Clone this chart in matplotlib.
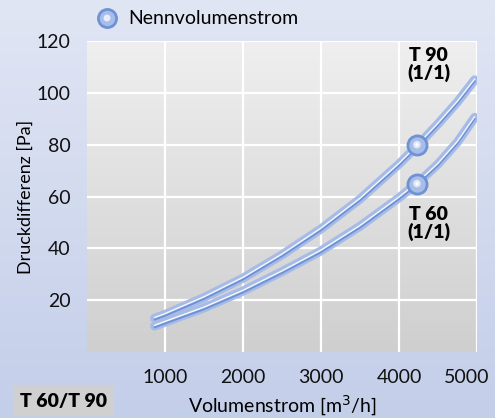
import numpy as np
import matplotlib
matplotlib.use("Agg")
import matplotlib.pyplot as plt
from matplotlib import transforms

plt.rcParams['font.family'] = ['Lato', 'DejaVu Sans']

# values
flow = [866, 1000, 1500, 2000, 2500, 3000, 3500, 4000, 4250, 4500, 4750, 4970]
t90 = [13, 14.5, 21, 28.5, 37.5, 47.5, 59, 72.5, 80, 88, 96.5, 105]
t60 = [10, 11.5, 17, 23.5, 31, 39, 48.5, 59.5, 65.5, 72.5, 81, 90.5]
nominal_flow = [4230, 4230]
nominal_dp = [80, 65]
xticks = [1000, 2000, 3000, 4000, 5000]
yticks = [20, 40, 60, 80, 100, 120]

fig = plt.figure(figsize=(4.95, 4.18), dpi=100)

# figure background gradient
bg = fig.add_axes([0, 0, 1, 1], zorder=-10)
grad = np.linspace(0, 1, 256).reshape(-1, 1)
bg.imshow(grad, aspect='auto', extent=[0, 1, 0, 1], origin='upper',
          cmap=matplotlib.colors.LinearSegmentedColormap.from_list('b', ['#e1e6f4', '#c3cee9']))
bg.set_xlim(0, 1)
bg.set_ylim(0, 1)
bg.axis('off')

ax = fig.add_axes([0.1758, 0.1579, 0.7878, 0.744])
ax.set_xlim(0, 5000)
ax.set_ylim(0, 120)
ax.imshow(grad, aspect='auto', extent=[0, 5000, 0, 120], origin='upper', zorder=0,
          cmap=matplotlib.colors.LinearSegmentedColormap.from_list('g', ['#efefef', '#cfcfcf']))
for s in ax.spines.values():
    s.set_visible(False)
ax.set_xticks(xticks)
ax.set_yticks(yticks)
ax.grid(True, color='white', lw=1.6, zorder=1)
ax.tick_params(length=0, labelsize=14, pad=12, colors='#111111')
ax.set_yticklabels([str(v) for v in yticks])
ax.set_xticklabels([str(v) for v in xticks])
lbls = ax.get_xticklabels()
lbls[-1].set_ha('right')
lbls[-1].set_transform(lbls[-1].get_transform() + transforms.ScaledTranslation(0.12, 0, fig.dpi_scale_trans))

down = transforms.offset_copy(ax.transData, fig=fig, x=0, y=-1.3, units='dots')
up = transforms.offset_copy(ax.transData, fig=fig, x=0, y=0.8, units='dots')
for ys in (t90, t60):
    ax.plot(flow, ys, color='#a6bbe7', lw=6.5, solid_capstyle='round', solid_joinstyle='round', zorder=3)
    ax.plot(flow, ys, color='#6f92d5', lw=1.4, transform=down, solid_capstyle='round', zorder=4)
    ax.plot(flow, ys, color='white', lw=1.0, transform=up, solid_capstyle='round', zorder=5, alpha=0.9)

ax.scatter(nominal_flow, nominal_dp, s=190, color='#a9bde9', edgecolors='#6e93d4', linewidths=2, zorder=6)
ax.scatter(nominal_flow, nominal_dp, s=30, color='#dfe7fa', edgecolors='none', zorder=7)
ax.scatter(nominal_flow, nominal_dp, s=5, color='white', edgecolors='none', zorder=8)

ax.text(4380, 111, 'T 90\n(1/1)', ha='center', va='center', fontsize=14, fontweight='heavy',
        linespacing=1.0, zorder=9)
ax.text(4380, 49.5, 'T 60\n(1/1)', ha='center', va='center', fontsize=14, fontweight='heavy',
        linespacing=1.0, zorder=9)

ax.set_ylabel('Druckdifferenz [Pa]', fontsize=13, labelpad=2)
ax.set_xlabel('Volumenstrom [m$^3$/h]', fontsize=14, labelpad=6)

# legend at the top
bg.scatter([107 / 495], [1 - 18 / 418], s=170, color='#a9bde9', edgecolors='#6e93d4', linewidths=2, zorder=5)
bg.scatter([107 / 495], [1 - 18 / 418], s=25, color='#e6ecfb', edgecolors='none', zorder=6)
fig.text(128 / 495, 1 - 19 / 418, 'Nennvolumenstrom', fontsize=14, va='center', ha='left')

fig.text(64 / 495, 1 - 401 / 418, 'T 60/T 90', fontsize=14, fontweight='heavy', ha='center', va='center',
         bbox=dict(boxstyle='square,pad=0.35', facecolor='#d0d0d0', edgecolor='none'))

fig.savefig('out.png', dpi=100)
